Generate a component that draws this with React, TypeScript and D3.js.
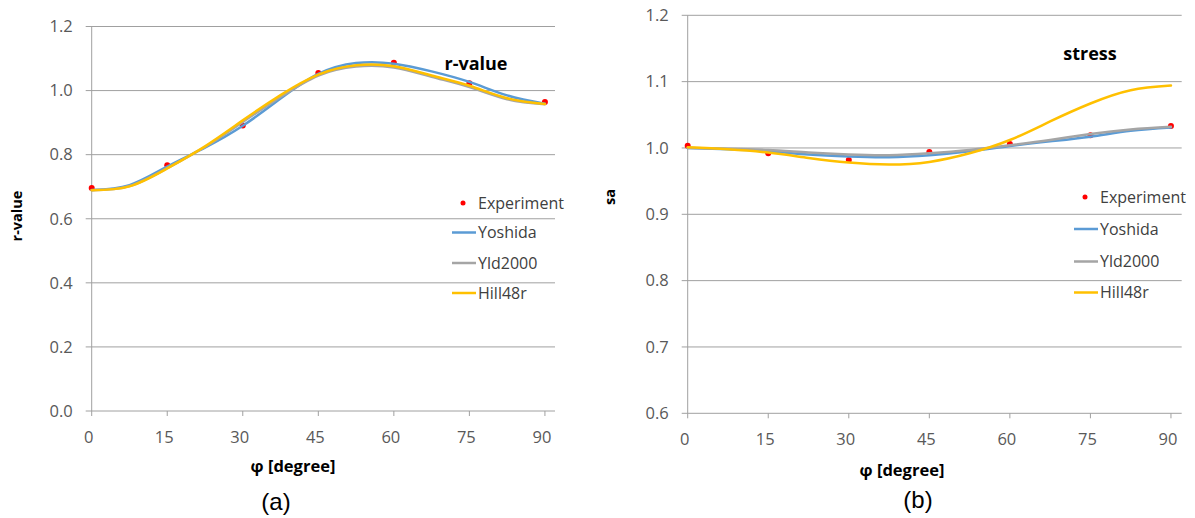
import React from "react";
import * as d3 from "d3";

// ---------- data ----------
const xTicks = [0, 15, 30, 45, 60, 75, 90];
const expAngles = [0, 15, 30, 45, 60, 75, 90];
const modelAngles = [0, 7.5, 15, 22.5, 30, 37.5, 45, 52.5, 60, 67.5, 75, 82.5, 90];

const seriesNames = ["Experiment", "Yoshida", "Yld2000", "Hill48r"];
const seriesColors = ["#FF0000", "#5B9BD5", "#A5A5A5", "#FFC000"];

// (a) r-value
const rTicks = [0, 0.2, 0.4, 0.6, 0.8, 1.0, 1.2];
const rExperiment = [0.696, 0.767, 0.891, 1.055, 1.087, 1.023, 0.964];
const rYoshida = [0.690, 0.705, 0.763, 0.822, 0.890, 0.975, 1.052, 1.086, 1.084, 1.060, 1.027, 0.985, 0.959];
const rYld2000 = [0.689, 0.702, 0.758, 0.824, 0.902, 0.980, 1.047, 1.075, 1.072, 1.043, 1.011, 0.973, 0.957];
const rHill48r = [0.689, 0.701, 0.757, 0.826, 0.907, 0.986, 1.050, 1.079, 1.076, 1.047, 1.015, 0.976, 0.958];

// (b) stress
const sTicks = [0.6, 0.7, 0.8, 0.9, 1.0, 1.1, 1.2];
const sExperiment = [1.0035, 0.992, 0.982, 0.994, 1.006, 1.019, 1.033];
const sYoshida = [1.000, 0.998, 0.995, 0.990, 0.987, 0.986, 0.989, 0.995, 1.003, 1.010, 1.017, 1.026, 1.031];
const sYld2000 = [1.000, 0.999, 0.997, 0.993, 0.990, 0.989, 0.992, 0.997, 1.004, 1.012, 1.021, 1.028, 1.032];
const sHill48r = [1.001, 0.998, 0.993, 0.985, 0.978, 0.975, 0.979, 0.992, 1.012, 1.040, 1.067, 1.087, 1.094];

const FONT = "'Open Sans', 'Noto Sans', sans-serif";

type PanelProps = {
  left: number; right: number; top: number; bottom: number;
  yDomain: [number, number]; yTicks: number[];
  exp: number[]; models: number[][];
  yTitle: string; yTitleX: number; yTitleY: number;
  title: string; titleX: number; titleY: number;
  legX: number; legY: number[];
  xTitleX: number; xTitleY: number;
  tag: string; tagX: number; tagY: number;
};

function Panel(p: PanelProps) {
  const x = d3.scaleLinear().domain([0, 92]).range([p.left, p.right]);
  const y = d3.scaleLinear().domain(p.yDomain).range([p.bottom, p.top]);
  const line = d3
    .line<number>()
    .x((_, i) => x(modelAngles[i]))
    .y((d) => y(d))
    .curve(d3.curveNatural);
  const grid = "#A0A0A0";
  return (
    <g>
      {p.yTicks.map((t) => (
        <g key={"g" + t}>
          <line x1={p.left - 6} x2={p.right} y1={y(t)} y2={y(t)} stroke={grid} strokeWidth={1} />
          <text x={p.left - 19} y={y(t)} dy="0.35em" textAnchor="end" fontFamily={FONT} fontSize={16.5} fill="#595959">
            {t.toFixed(1)}
          </text>
        </g>
      ))}
      <line x1={p.left} x2={p.left} y1={p.top} y2={p.bottom} stroke={grid} strokeWidth={1} />
      {xTicks.map((t) => (
        <g key={"x" + t}>
          <line x1={x(t)} x2={x(t)} y1={p.bottom} y2={p.bottom + 5} stroke={grid} strokeWidth={1} />
          <text x={x(t) - 3} y={p.bottom + 26} dy="0.35em" textAnchor="middle" fontFamily={FONT} fontSize={16.5} fill="#595959">
            {t}
          </text>
        </g>
      ))}
      {/* experiment points */}
      {p.exp.map((v, i) => (
        <circle key={"e" + i} cx={x(expAngles[i])} cy={y(v)} r={3} fill={seriesColors[0]} />
      ))}
      {p.models.map((m, k) => (
        <path key={"m" + k} d={line(m) || ""} fill="none" stroke={seriesColors[k + 1]} strokeWidth={2.5} strokeLinecap="round" />
      ))}
      {/* titles */}
      <text x={p.titleX} y={p.titleY} dy="0.35em" textAnchor="middle" fontFamily={FONT} fontWeight="bold" fontSize={18} fill="#000">
        {p.title}
      </text>
      <text
        transform={`translate(${p.yTitleX},${p.yTitleY}) rotate(-90)`}
        dy="0.35em"
        textAnchor="middle"
        fontFamily={FONT}
        fontWeight="bold"
        fontSize={14.5}
        fill="#000"
      >
        {p.yTitle}
      </text>
      <text x={p.xTitleX} y={p.xTitleY} dy="0.35em" textAnchor="middle" fontFamily={FONT} fontWeight="bold" fontSize={16.5} fill="#000">
        {"\u03C6 [degree]"}
      </text>
      <text x={p.tagX} y={p.tagY} textAnchor="middle" fontFamily="'Liberation Sans', Arial, sans-serif" fontSize={24} fill="#000">
        {p.tag}
      </text>
      {/* legend */}
      {seriesNames.map((n, i) => (
        <g key={"l" + n}>
          {i === 0 ? (
            <circle cx={p.legX + 11} cy={p.legY[i]} r={2.5} fill={seriesColors[0]} />
          ) : (
            <line x1={p.legX} x2={p.legX + 24} y1={p.legY[i]} y2={p.legY[i]} stroke={seriesColors[i]} strokeWidth={2.5} />
          )}
          <text x={p.legX + 26} y={p.legY[i]} dy="0.35em" fontFamily={FONT} fontSize={16} fill="#404040">
            {n}
          </text>
        </g>
      ))}
    </g>
  );
}

export default function App() {
  return (
    <svg width={1195} height={518} style={{ position: "absolute", left: 0, top: 0, background: "#fff" }}>
      <rect width={1195} height={518} fill="#fff" />
      <Panel
        left={91.7} right={555} top={26.5} bottom={411}
        yDomain={[0, 1.2]} yTicks={rTicks}
        exp={rExperiment} models={[rYoshida, rYld2000, rHill48r]}
        yTitle="r-value" yTitleX={17} yTitleY={216}
        title="r-value" titleX={476} titleY={64}
        legX={452} legY={[203, 232.5, 263, 293]}
        xTitleX={293} xTitleY={466}
        tag="(a)" tagX={276} tagY={510}
      />
      <Panel
        left={687.7} right={1181.7} top={15.3} bottom={413.3}
        yDomain={[0.6, 1.2]} yTicks={sTicks}
        exp={sExperiment} models={[sYoshida, sYld2000, sHill48r]}
        yTitle="sa" yTitleX={610} yTitleY={197}
        title="stress" titleX={1090} titleY={54}
        legX={1074} legY={[197, 229, 261.5, 292.5]}
        xTitleX={902} xTitleY={470}
        tag="(b)" tagX={918} tagY={508}
      />
    </svg>
  );
}
